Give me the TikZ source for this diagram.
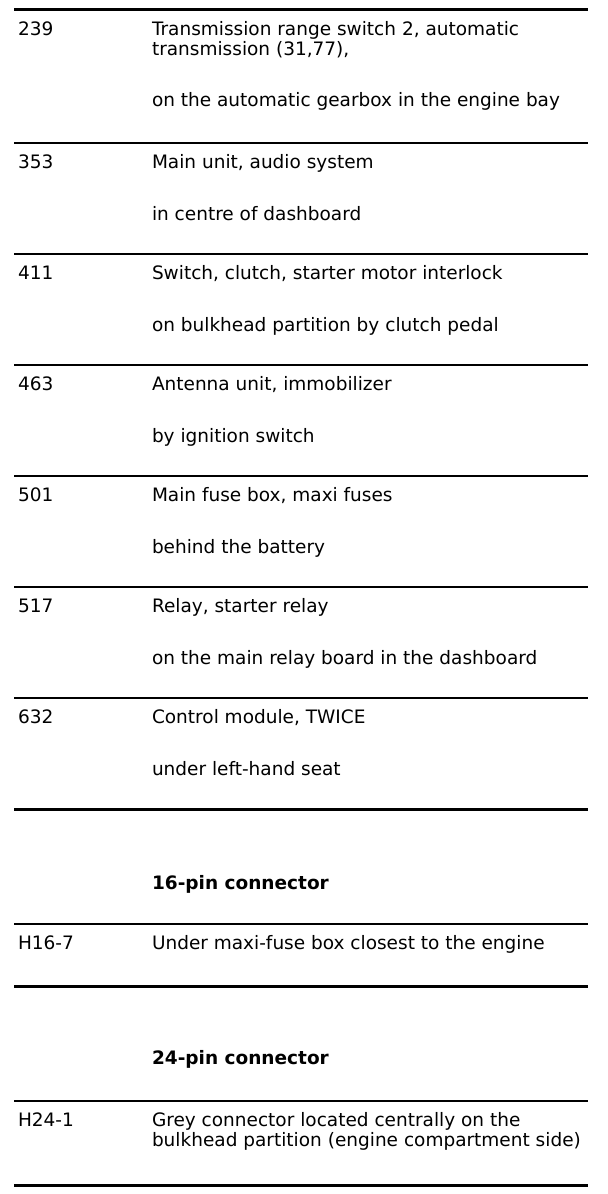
\documentclass[tikz,border=0pt]{standalone}
\usepackage{fontspec}
\setmainfont{DejaVu Sans}
\begin{document}
\begin{tikzpicture}[x=1bp,y=-1bp,
  rule/.style={line width=2.4bp,black},
  thickrule/.style={line width=3bp,black},
  txt/.style={anchor=base west,inner sep=0pt,outer sep=0pt,font=\fontsize{18.5bp}{20bp}\selectfont},
  head/.style={txt,font=\fontsize{18.5bp}{20bp}\selectfont\bfseries}]
\useasboundingbox[fill=white] (0,0) rectangle (608,1194);
\def\cA{18}
\def\cB{152}
% rules
\draw[thickrule] (14,9.5) -- (588,9.5);
\draw[rule] (14,143) -- (588,143);
\draw[rule] (14,254) -- (588,254);
\draw[rule] (14,365) -- (588,365);
\draw[rule] (14,476) -- (588,476);
\draw[rule] (14,587) -- (588,587);
\draw[rule] (14,698) -- (588,698);
\draw[thickrule] (14,809) -- (588,809);
\draw[rule] (14,924) -- (588,924);
\draw[thickrule] (14,986) -- (588,986);
\draw[rule] (14,1101) -- (588,1101);
\draw[thickrule] (14,1185) -- (588,1185);
% row 239
\node[txt] (n239) at (\cA,35) {239};
\node[txt] (d239a) at (\cB,35) {Transmission range switch 2, automatic};
\node[txt] (d239b) at (\cB,55) {transmission (31,77),};
\node[txt] (l239) at (\cB,106.5) {on the automatic gearbox in the engine bay};
% row 353
\node[txt] (n353) at (\cA,168) {353};
\node[txt] (d353) at (\cB,168) {Main unit, audio system};
\node[txt] (l353) at (\cB,220) {in centre of dashboard};
% row 411
\node[txt] (n411) at (\cA,279) {411};
\node[txt] (d411) at (\cB,279) {Switch, clutch, starter motor interlock};
\node[txt] (l411) at (\cB,331) {on bulkhead partition by clutch pedal};
% row 463
\node[txt] (n463) at (\cA,390) {463};
\node[txt] (d463) at (\cB,390) {Antenna unit, immobilizer};
\node[txt] (l463) at (\cB,442) {by ignition switch};
% row 501
\node[txt] (n501) at (\cA,501) {501};
\node[txt] (d501) at (\cB,501) {Main fuse box, maxi fuses};
\node[txt] (l501) at (\cB,553) {behind the battery};
% row 517
\node[txt] (n517) at (\cA,612) {517};
\node[txt] (d517) at (\cB,612) {Relay, starter relay};
\node[txt] (l517) at (\cB,664) {on the main relay board in the dashboard};
% row 632
\node[txt] (n632) at (\cA,723) {632};
\node[txt] (d632) at (\cB,723) {Control module, TWICE};
\node[txt] (l632) at (\cB,775) {under left-hand seat};
% 16-pin
\node[head] (h16) at (\cB,889) {16-pin connector};
\node[txt] (n167) at (\cA,949) {H16-7};
\node[txt] (d167) at (\cB,949) {Under maxi-fuse box closest to the engine};
% 24-pin
\node[head] (h24) at (\cB,1064) {24-pin connector};
\node[txt] (n241) at (\cA,1126) {H24-1};
\node[txt] (d241a) at (\cB,1126) {Grey connector located centrally on the};
\node[txt] (d241b) at (\cB,1146) {bulkhead partition (engine compartment side)};
\end{tikzpicture}
\end{document}
